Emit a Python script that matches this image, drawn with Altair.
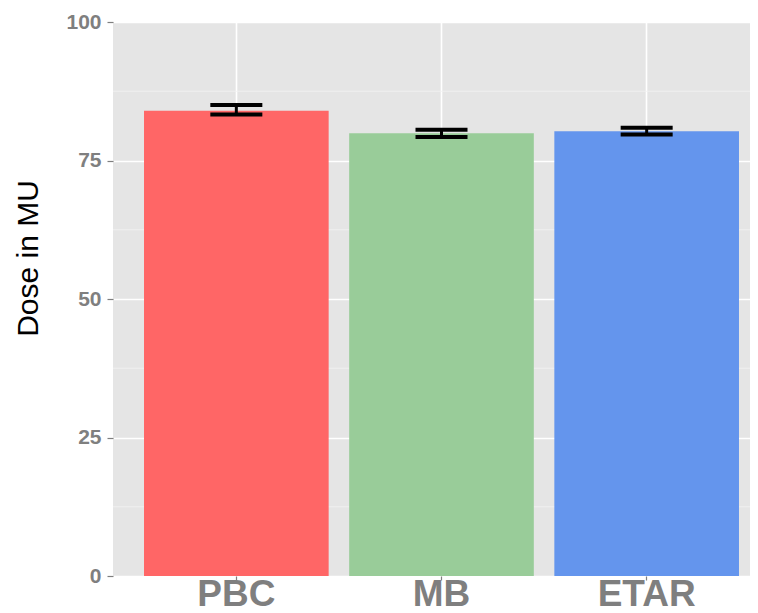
import altair as alt
import pandas as pd

methods = ["PBC", "MB", "ETAR"]
doses = [84.0, 79.9, 80.3]
lower = [83.3, 79.25, 79.7]
upper = [85.0, 80.55, 80.9]
colors = ["#FF6666", "#99CC99", "#6495ED"]
y_ticks = [0, 25, 50, 75, 100]
minor_ticks = [12.5, 37.5, 62.5, 87.5]

df = pd.DataFrame({"method": methods, "dose": doses, "lower": lower, "upper": upper})
minor_df = pd.DataFrame({"v": minor_ticks})

FONT = "Liberation Sans"
GRAY = "#7F7F7F"

x_scale = alt.Scale(domain=methods, paddingInner=0.1, paddingOuter=0.1024, align=0.738)
y_scale = alt.Scale(domain=[0, 100], nice=False, zero=True)

x_axis = alt.Axis(
    title=None, labelFontSize=37, labelFontWeight="bold", labelColor=GRAY,
    labelFont=FONT, tickColor=GRAY, tickSize=4, tickWidth=1.2, labelPadding=-4,
    domain=False, grid=True, gridColor="white", gridWidth=1.6,
    bandPosition=0.5, labelAngle=0,
)
y_axis = alt.Axis(
    title="Dose in MU", values=y_ticks, labelFontSize=21, labelFontWeight="bold",
    labelColor=GRAY, labelFont=FONT, tickColor=GRAY, tickSize=6, tickWidth=1.2,
    labelPadding=6, domain=False, grid=True, gridColor="white", gridWidth=1.6,
    titleFont=FONT, titleFontSize=30, titleFontWeight="normal", titleColor="black",
    titleX=-76, titleY=236, titleBaseline="alphabetic",
)

X = alt.X("method:N", scale=x_scale, axis=x_axis, sort=methods)

minor = alt.Chart(minor_df).mark_rule(color="#F2F2F2", strokeWidth=0.8).encode(
    y=alt.Y("v:Q", scale=y_scale, axis=y_axis)
)

bars = alt.Chart(df).mark_bar().encode(
    x=X,
    y=alt.Y("dose:Q", scale=y_scale, axis=y_axis),
    color=alt.Color("method:N", scale=alt.Scale(domain=methods, range=colors), legend=None),
)

stems = alt.Chart(df).mark_rule(color="black", strokeWidth=3, opacity=1).encode(
    x=X,
    y=alt.Y("lower:Q", scale=y_scale, axis=y_axis),
    y2="upper:Q",
)

caps_low = alt.Chart(df).mark_tick(color="black", thickness=4, size=52, opacity=1).encode(
    x=X, y=alt.Y("lower:Q", scale=y_scale, axis=y_axis)
)
caps_high = alt.Chart(df).mark_tick(color="black", thickness=4, size=52, opacity=1).encode(
    x=X, y=alt.Y("upper:Q", scale=y_scale, axis=y_axis)
)

chart = alt.layer(minor, bars, stems, caps_low, caps_high).properties(
    width=637, height=554,
    padding={"left": 105, "top": 14, "right": 0, "bottom": 50},
    autosize=alt.AutoSizeParams(type="none"),
).configure_view(fill="#E5E5E5", stroke=None)

chart.save("out.html", embed_options={"renderer": "svg", "actions": False})
